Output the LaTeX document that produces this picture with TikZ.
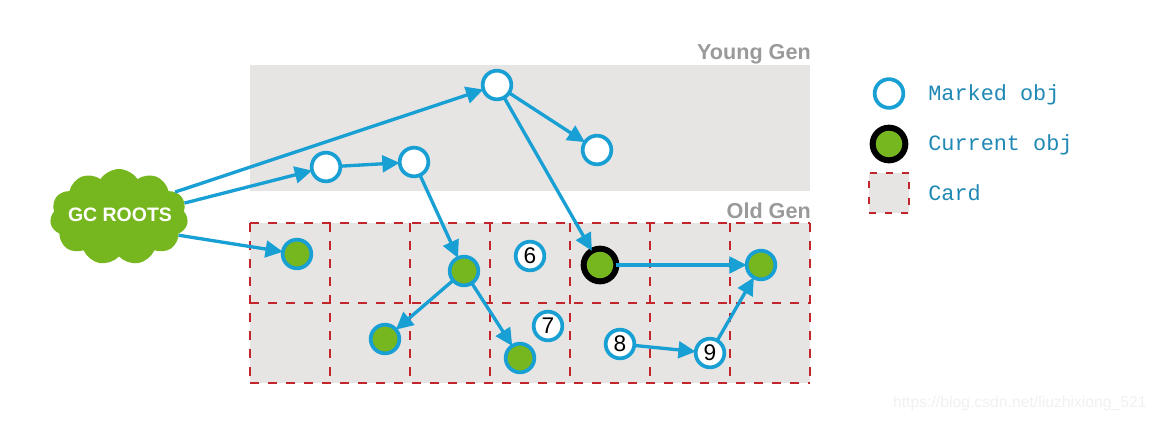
\documentclass[tikz,border=0pt]{standalone}
\usepackage{fontspec}
\setmainfont{Liberation Sans}
\setmonofont{Liberation Mono}
\usetikzlibrary{arrows.meta,shapes.symbols}
\definecolor{objblue}{HTML}{189FD3}
\definecolor{objgreen}{HTML}{76B71F}
\definecolor{genbg}{HTML}{E6E5E3}
\definecolor{cardred}{HTML}{C3252D}
\definecolor{gentext}{HTML}{9A9A9A}
\definecolor{legtext}{HTML}{1F88B4}
\tikzset{
  x=0.75pt,y=-0.75pt,
  marked/.style={circle,draw=objblue,line width=2.8pt,fill=white,minimum size=21.5pt,inner sep=0pt,outer sep=0pt,text=black,font=\fontsize{17}{17}\selectfont},
  greenobj/.style={marked,fill=objgreen},
  currentobj/.style={circle,draw=black,line width=4.5pt,fill=objgreen,minimum size=24.5pt,inner sep=0pt,outer sep=0pt},
  genarea/.style={fill=genbg,inner sep=0pt,outer sep=0pt,anchor=north west},
  cardline/.style={draw=cardred,dash pattern=on 7pt off 6.5pt,line width=1.6pt},
  cardkey/.style={genarea,draw=cardred,dash pattern=on 5.5pt off 6.5pt,line width=1.6pt,minimum size=30pt},
  conn/.style={draw=objblue,line width=2.5pt,-{Triangle[length=13pt,width=12.5pt]}},
  gentitle/.style={text=gentext,font=\fontsize{16.2}{17}\selectfont\bfseries,anchor=base east,inner sep=0pt},
  legendtext/.style={text=legtext,font=\ttfamily\fontsize{16.4}{17}\selectfont,anchor=base west,inner sep=0pt},
}
\begin{document}
\begin{tikzpicture}
\useasboundingbox (0,0) rectangle (1156,422);
\node[genarea,minimum width=420pt,minimum height=94.5pt] (young) at (250,65) {};
\node[gentitle] (ylabel) at (811,59) {Young Gen};
\node[gentitle] (olabel) at (811,218) {Old Gen};
\node[genarea,minimum width=420pt,minimum height=120pt] (old) at (250,223) {};
\foreach \gy in {223,303,383}{\draw[cardline] (250,\gy) -- (810,\gy);}
\foreach \gx in {250,330,410,490,570,650,730,810}{\draw[cardline] (\gx,223) -- (\gx,383);}
\node[cloud,cloud puffs=11,cloud puff arc=115,aspect=1.45,fill=objgreen,inner sep=0pt,outer sep=0pt,minimum width=103.5pt,minimum height=72pt] (roots) at (119,217) {};
\node[text=white,inner sep=0pt,font=\fontsize{14.6}{15}\selectfont\bfseries] (rootstext) at (120,215) {GC ROOTS};
\node[marked] (y1) at (497,85) {};
\node[marked] (y2) at (326,167) {};
\node[marked] (y3) at (414,162) {};
\node[marked] (y4) at (597,150) {};
\node[greenobj] (o1) at (297,254) {};
\node[greenobj] (o2) at (464,271) {};
\node[greenobj] (o3) at (385,339) {};
\node[greenobj] (o4) at (520,358) {};
\node[marked] (n6) at (530,256) {6};
\node[marked] (n7) at (548,326) {7};
\node[marked] (n8) at (620,344) {8};
\node[marked] (n9) at (710,353) {9};
\node[currentobj] (cur) at (600,265) {};
\node[greenobj] (o5) at (761,265) {};
\draw[conn] (roots.24) -- (y1);
\draw[conn] (roots.12) -- (y2);
\draw[conn] (roots.-17) -- (o1);
\draw[conn] (y2) -- (y3);
\draw[conn] (y1) -- (y4);
\draw[conn] (y1) -- (cur);
\draw[conn] (y3) -- (o2);
\draw[conn] (o2) -- (o3);
\draw[conn] (o2) -- (o4);
\draw[conn] (cur) -- (o5);
\draw[conn] (n8) -- (n9);
\draw[conn] (n9) -- (o5);
\node[marked] (l1) at (889,93.5) {};
\node[currentobj] (l2) at (889,144) {};
\node[cardkey] (l3) at (869,173) {};
\node[legendtext] (t1) at (928,100) {Marked obj};
\node[legendtext] (t2) at (928,150) {Current obj};
\node[legendtext] (t3) at (928,200) {Card};
\node[text=black!6,font=\fontsize{11.8}{13}\selectfont,anchor=east,inner sep=0pt] (wm) at (1147,403) {https://blog.csdn.net/liuzhixiong\_521};
\end{tikzpicture}
\end{document}
